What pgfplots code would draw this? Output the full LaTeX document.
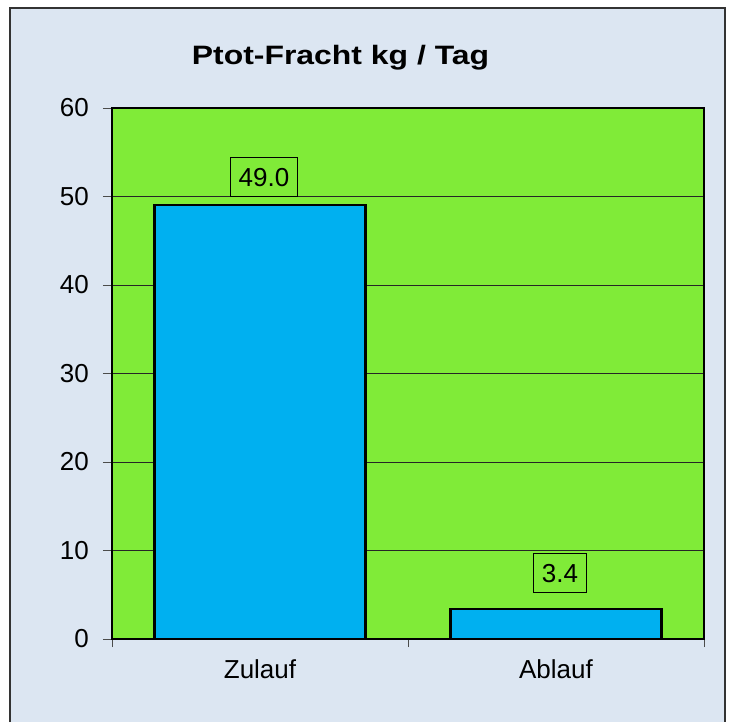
\documentclass[border=0pt]{standalone}
\usepackage{pgfplots}
\pgfplotsset{compat=1.18}
\usepackage{fontspec}
\setmainfont{Liberation Sans}
\definecolor{bgc}{RGB}{220,230,242}
\definecolor{plotg}{RGB}{128,235,56}
\definecolor{barb}{RGB}{0,176,240}
\begin{document}
\begin{tikzpicture}
\fill[white] (0,0) rectangle (366.5pt,361pt);
\fill[bgc] (5pt,0) rectangle (362.5pt,357pt);
\draw[line width=0.7pt,black!80] (5pt,0) -- (5pt,357pt) -- (362.5pt,357pt) -- (362.5pt,0);
\node[anchor=base] at (170.25pt,328.9pt) {\scalebox{1.2}[1]{\fontsize{13.3pt}{15pt}\selectfont\bfseries Ptot-Fracht kg / Tag}};
\begin{axis}[
  at={(56pt,41.5pt)}, anchor=south west,
  scale only axis, width=296pt, height=265.5pt,
  xmin=-0.5, xmax=1.5, ymin=0, ymax=60,
  ytick={0,10,...,60},
  xtick={0,1}, xticklabels={Zulauf,Ablauf},
  minor xtick={-0.5,0.5,1.5},
  tick align=outside, tick pos=lower,
  major tick length=4.5pt, minor tick length=4pt,
  xtick style={draw=none},
  minor x tick style={draw=black!70, line width=0.5pt},
  ytick style={draw=black!70, line width=0.5pt},
  /pgf/number format/assume math mode=true,
  axis background/.style={fill=plotg},
  axis line style={line width=0.6pt, black},
  ymajorgrids, grid style={line width=0.5pt, black!85},
  tick label style={font=\fontsize{13pt}{15pt}\selectfont, black},
  yticklabel style={xshift=-3.6pt},
  xticklabel style={yshift=-2.3pt},
  ybar, bar width=105.5pt,
  nodes near coords,
  point meta=explicit symbolic,
  visualization depends on={\thisrow{off} \as \off},
  every node near coord/.append style={
    font=\fontsize{13pt}{15pt}\selectfont, black,
    draw=black, line width=0.5pt, fill=plotg,
    inner xsep=4pt, text height=9.4pt, text depth=0.3pt, inner ysep=4.9pt,
    anchor=south, xshift=2pt, yshift=\off pt},
]
\addplot[fill=barb, draw=black, line width=1.1pt] table[x=x, y=y, meta=lab] {
x y lab off
0 49.0 49.0 4
1 3.4 3.4 8
};
\end{axis}
\end{tikzpicture}
\end{document}
